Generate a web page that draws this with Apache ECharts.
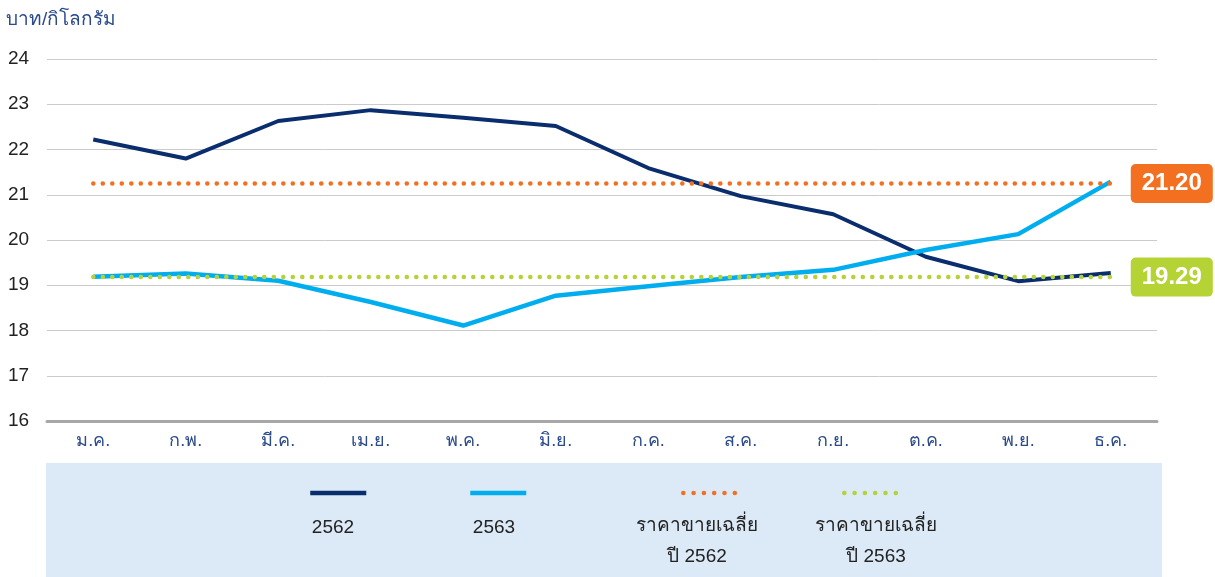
<!DOCTYPE html>
<html>
<head>
<meta charset="utf-8">
<script src="https://cdn.jsdelivr.net/npm/echarts@6/dist/echarts.min.js"></script>
<style>
  html, body { margin: 0; padding: 0; background: #fff; }
  #chart { width: 1215px; height: 577px; }
</style>
</head>
<body>
<div id="chart"></div>
<script>
const months = ['ม.ค.', 'ก.พ.', 'มี.ค.', 'เม.ย.', 'พ.ค.', 'มิ.ย.', 'ก.ค.', 'ส.ค.', 'ก.ย.', 'ต.ค.', 'พ.ย.', 'ธ.ค.']
const price2562 = [22.22, 21.80, 22.63, 22.87, 22.70, 22.52, 21.59, 20.97, 20.57, 19.63, 19.09, 19.27]
const price2563 = [19.19, 19.26, 19.10, 18.63, 18.11, 18.77, 18.98, 19.18, 19.34, 19.78, 20.13, 21.29]
const avg2562 = [21.25, 21.25, 21.25, 21.25, 21.25, 21.25, 21.25, 21.25, 21.25, 21.25, 21.25, 21.25]
const avg2563 = [19.18, 19.18, 19.18, 19.18, 19.18, 19.18, 19.18, 19.18, 19.18, 19.18, 19.18, 19.18]
const avgLabels = ['21.20', '19.29']
const seriesNames = ['2562', '2563', 'ราคาขายเฉลี่ย\nปี 2562', 'ราคาขายเฉลี่ย\nปี 2563']
const yTicks = { min: 16, max: 24, interval: 1 }

const navy = '#0a2d6e'
const sky = '#00aeef'
const orange = '#f37021'
const lime = '#b5d334'
const font = 'Helvetica, Arial, "Noto Sans", sans-serif'

const chart = echarts.init(document.getElementById('chart'))

// one legend per item so the text can sit under the icon
const legendSpots = [
  { name: seriesNames[0], left: 308, dotted: false },
  { name: seriesNames[1], left: 468, dotted: false },
  { name: seriesNames[2], left: 681, dotted: true },
  { name: seriesNames[3], left: 842, dotted: true },
]
const legendTexts = [
  { text: seriesNames[0], x: 333, y: 528 },
  { text: seriesNames[1], x: 494, y: 528 },
  { text: 'ราคาขายเฉลี่ย', x: 697, y: 526 },
  { text: 'ปี 2562', x: 697, y: 557 },
  { text: 'ราคาขายเฉลี่ย', x: 876, y: 526 },
  { text: 'ปี 2563', x: 876, y: 557 },
]

const avgLine = (name, data, color, label) => ({
  name,
  type: 'line',
  data,
  symbol: 'none',
  z: 3,
  lineStyle: { color, width: 4.5, type: [0.1, 9.4], cap: 'round' },
  itemStyle: { color },
  endLabel: {
    show: true,
    formatter: label,
    distance: 20,
    backgroundColor: color,
    borderRadius: 5,
    padding: [8, 11, 7, 11],
    color: '#fff',
    fontFamily: font,
    fontWeight: 'bold',
    fontSize: 24,
  },
})

const option = {
  animation: false,
  backgroundColor: '#fff',
  grid: { left: 47, right: 58, top: 59, bottom: 156 },
  graphic: [
    {
      type: 'rect',
      z: -1,
      shape: { x: 46, y: 463, width: 1116, height: 114 },
      style: { fill: '#dceaf7' },
    },
    {
      type: 'text',
      left: 6,
      top: 10,
      style: { text: 'บาท/กิโลกรัม', fill: '#2b4a8b', font: '19px ' + font },
    },
    ...legendTexts.map((t) => ({
      type: 'text',
      x: t.x,
      y: t.y,
      style: {
        text: t.text,
        fill: '#222',
        font: '19px ' + font,
        align: 'center',
        verticalAlign: 'middle',
      },
    })),
  ],
  legend: legendSpots.map((s) => ({
    data: [s.name],
    left: s.left,
    top: 486,
    padding: 0,
    itemWidth: 56,
    itemHeight: 14,
    formatter: () => '',
    selectedMode: false,
    itemStyle: { opacity: 0 },
    lineStyle: s.dotted
      ? { width: 4.5, type: [0.1, 10.2], cap: 'round' }
      : { width: 4.5 },
  })),
  xAxis: {
    type: 'category',
    data: months,
    boundaryGap: true,
    axisLine: { lineStyle: { color: '#a7a7a7', width: 3 } },
    axisTick: { show: false },
    axisLabel: { color: '#2b4a8b', fontSize: 18, fontFamily: font, margin: 11 },
  },
  yAxis: {
    type: 'value',
    min: yTicks.min,
    max: yTicks.max,
    interval: yTicks.interval,
    axisLine: { show: false },
    axisTick: { show: false },
    splitLine: { lineStyle: { color: '#cbcbcb', width: 1 } },
    axisLabel: { color: '#222', fontSize: 19, fontFamily: font, align: 'left', margin: 39 },
  },
  series: [
    {
      name: seriesNames[0],
      type: 'line',
      data: price2562,
      symbol: 'none',
      z: 2,
      lineStyle: { color: navy, width: 4 },
      itemStyle: { color: navy },
    },
    {
      name: seriesNames[1],
      type: 'line',
      data: price2563,
      symbol: 'none',
      z: 2,
      lineStyle: { color: sky, width: 4.5 },
      itemStyle: { color: sky },
    },
    avgLine(seriesNames[2], avg2562, orange, avgLabels[0]),
    avgLine(seriesNames[3], avg2563, lime, avgLabels[1]),
  ],
}

chart.setOption(option)
</script>
</body>
</html>
